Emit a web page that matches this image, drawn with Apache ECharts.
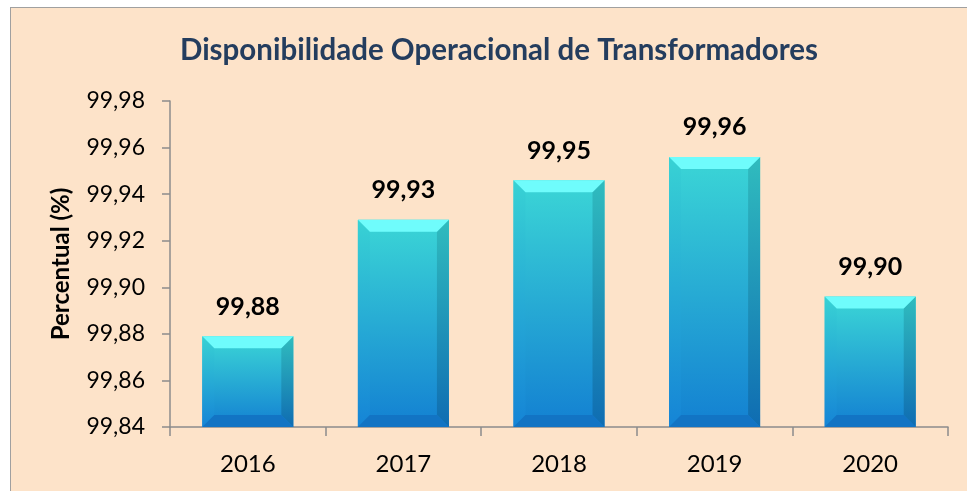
<!DOCTYPE html>
<html>
<head>
<meta charset="utf-8">
<script src="https://cdn.jsdelivr.net/npm/echarts@6/dist/echarts.min.js"></script>
<style>
  html, body { margin: 0; padding: 0; background: #ffffff; }
  .frame {
    position: absolute; left: 10px; top: 7px; width: 980px; height: 500px;
    background: #fde3c9; border: 1px solid #a0a0a0;
  }
  #chart { position: absolute; left: 0; top: 0; width: 967px; height: 491px; }
</style>
</head>
<body>
<div class="frame"></div>
<div id="chart"></div>
<script>
// dados
const years = ['2016', '2017', '2018', '2019', '2020'];
const disponibilidade = [99.879, 99.929, 99.946, 99.956, 99.896];
const yMin = 99.84;
const yMax = 99.98;
const yStep = 0.02;

const fmt = (v) => v.toFixed(2).replace('.', ',');
const FONT = 'Lato';

function renderBar(params, api) {
  const i = api.value(0);
  const v = api.value(1);
  const top = api.coord([i, v]);
  const base = api.coord([i, yMin]);
  const w = api.size([1, 0])[0] * 0.585;
  const x0 = top[0] - w / 2;
  const x1 = top[0] + w / 2;
  const y0 = top[1];
  const y1 = base[1];
  const b = 12; // bisel

  const grad = (c0, c1) => new echarts.graphic.LinearGradient(0, 0, 0, 1, [
    { offset: 0, color: c0 }, { offset: 1, color: c1 }
  ]);

  return {
    type: 'group',
    children: [
      { type: 'rect', shape: { x: x0, y: y0, width: w, height: y1 - y0 },
        style: { fill: grad('#3bd6d6', '#1380d2') } },
      { type: 'polygon', shape: { points: [[x0, y0], [x0 + b, y0 + b], [x0 + b, y1 - b], [x0, y1]] },
        style: { fill: grad('#38d2d4', '#1584d6') } },
      { type: 'polygon', shape: { points: [[x1, y0], [x1 - b, y0 + b], [x1 - b, y1 - b], [x1, y1]] },
        style: { fill: grad('#30bcbe', '#0f6cb2') } },
      { type: 'polygon', shape: { points: [[x0, y1], [x0 + b, y1 - b], [x1 - b, y1 - b], [x1, y1]] },
        style: { fill: '#1274c4' } },
      { type: 'polygon', shape: { points: [[x0, y0], [x1, y0], [x1 - b, y0 + b], [x0 + b, y0 + b]] },
        style: { fill: '#6ffcfc' } },
      { type: 'text', x: top[0], y: y0 - 17,
        style: { text: fmt(v), fill: '#000000', font: 'bold 25px ' + FONT, align: 'center', verticalAlign: 'bottom' } }
    ]
  };
}

const chart = echarts.init(document.getElementById('chart'));
chart.setOption({
  animation: false,
  backgroundColor: 'transparent',
  title: {
    text: 'Disponibilidade Operacional de Transformadores',
    left: 494,
    textAlign: 'center',
    top: 30,
    textStyle: { color: '#243d5e', fontFamily: FONT, fontWeight: 'bold', fontSize: 29.5 }
  },
  grid: { left: 170, right: 19, top: 101, bottom: 64 },
  xAxis: {
    type: 'category',
    data: years,
    axisLine: { lineStyle: { color: '#8c8c8c', width: 1.5 } },
    axisTick: { show: true, length: 9, lineStyle: { color: '#8c8c8c', width: 1.5 } },
    axisLabel: { color: '#000000', fontFamily: FONT, fontSize: 24, margin: 25 }
  },
  yAxis: {
    type: 'value',
    min: yMin,
    max: yMax,
    interval: yStep,
    name: 'Percentual (%)',
    nameLocation: 'middle',
    nameGap: 97,
    nameTextStyle: { color: '#000000', fontFamily: FONT, fontWeight: 'bold', fontSize: 24 },
    axisLine: { show: true, lineStyle: { color: '#8c8c8c', width: 1.5 } },
    axisTick: { show: true, length: 8, lineStyle: { color: '#8c8c8c', width: 1.5 } },
    splitLine: { show: false },
    axisLabel: { color: '#000000', fontFamily: FONT, fontSize: 23, margin: 25, formatter: fmt }
  },
  series: [{
    type: 'custom',
    renderItem: renderBar,
    encode: { x: 0, y: 1 },
    data: years.map((y, i) => [i, disponibilidade[i]])
  }]
});
</script>
</body>
</html>
